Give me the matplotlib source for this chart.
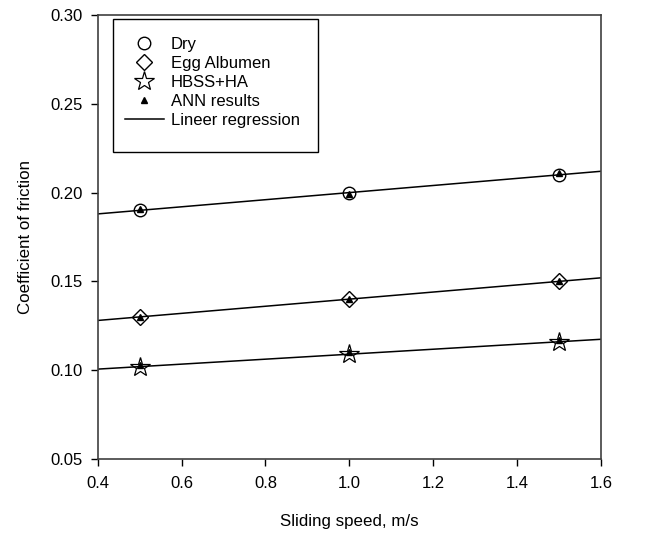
import numpy as np
import matplotlib
matplotlib.use("Agg")
import matplotlib.pyplot as plt
from matplotlib.patches import Rectangle

plt.rcParams['font.family'] = ['Liberation Sans', 'DejaVu Sans']

speed = [0.5, 1.0, 1.5]
dry = [0.190, 0.200, 0.210]
egg = [0.130, 0.140, 0.150]
hbss = [0.102, 0.109, 0.116]
ann_dry = [0.191, 0.199, 0.211]
ann_egg = [0.130, 0.140, 0.150]
ann_hbss = [0.103, 0.110, 0.117]

xticks = [0.4, 0.6, 0.8, 1.0, 1.2, 1.4, 1.6]
yticks = [0.05, 0.10, 0.15, 0.20, 0.25, 0.30]

fig = plt.figure(figsize=(6.56, 5.36), dpi=100)
ax = fig.add_axes([0.149, 0.1437, 0.767, 0.8283])

xfit = np.array([0.4, 1.6])
for ys in (dry, egg, hbss):
    k, b = np.polyfit(speed, ys, 1)
    ax.plot(xfit, k * xfit + b, color='black', lw=1.1, zorder=1)

ax.plot(speed, dry, 'o', ms=9, mfc='none', mec='black', mew=1.0, label='Dry', zorder=2)
ax.plot(speed, egg, 'D', ms=8, mfc='none', mec='black', mew=1.0, label='Egg Albumen', zorder=2)
ax.plot(speed, hbss, '*', ms=15, mfc='none', mec='black', mew=0.9, label='HBSS+HA', zorder=2)
ann_all_x = speed * 3
ann_all_y = ann_dry + ann_egg + ann_hbss
ax.plot(ann_all_x, ann_all_y, '^', ms=5, color='black', ls='none', label='ANN results', zorder=3)
ax.plot([], [], color='black', lw=1.1, label='Lineer regression')

ax.set_xlim(0.4, 1.6)
ax.set_ylim(0.05, 0.30)
ax.set_xticks(xticks)
ax.set_yticks(yticks)
ax.set_xticklabels([f"{v:.1f}" for v in xticks])
ax.set_yticklabels([f"{v:.2f}" for v in yticks])
ax.tick_params(direction='out', length=5, width=1, labelsize=12, color='black')
ax.tick_params(axis='x', pad=7)
ax.tick_params(axis='y', pad=6)
for s in ax.spines.values():
    s.set_linewidth(1.2)
    s.set_color('#404040')

ax.set_xlabel('Sliding speed, m/s', fontsize=12.2, labelpad=17)
ax.set_ylabel('Coefficient of friction', fontsize=12.2, labelpad=12)

# legend frame drawn separately (it is taller than the entries)
ax.add_patch(Rectangle((0.030, 0.6914), 0.4076, 0.2995, transform=ax.transAxes,
                       fill=False, edgecolor='black', lw=1.0, zorder=4))
leg = ax.legend(loc='upper left', bbox_to_anchor=(0.0537, 0.950), fontsize=12,
                frameon=False, borderpad=0, borderaxespad=0,
                handlelength=2.35, labelspacing=0.24, handletextpad=0.42)

fig.savefig('out.png', dpi=100)
